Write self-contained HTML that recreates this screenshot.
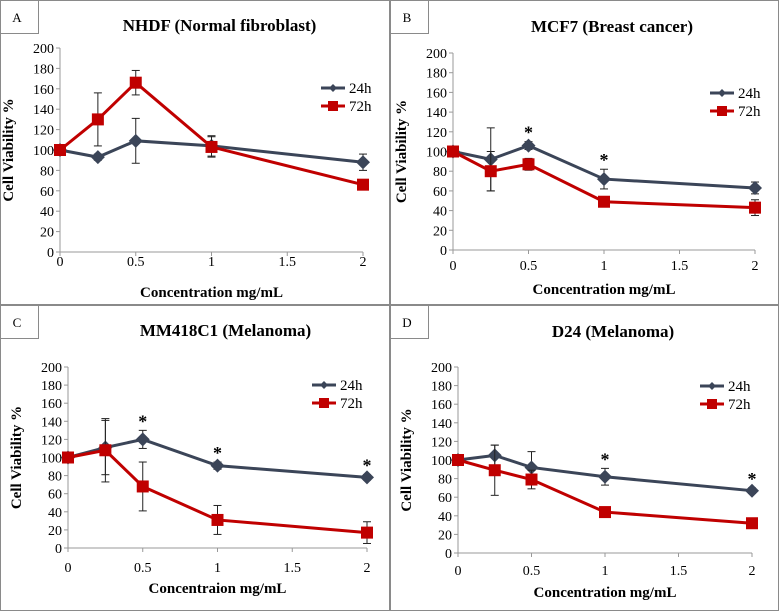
<!DOCTYPE html>
<html><head><meta charset="utf-8"><style>
body{margin:0;background:#fff}
svg text{font-family:"Liberation Serif",serif}
</style></head><body>
<svg id="fig" width="779" height="611" viewBox="0 0 779 611" xmlns="http://www.w3.org/2000/svg"></svg>
<script>
const concentrations=[0,0.25,0.5,1,2];
const xTicks=[0,0.5,1,1.5,2];
const yTicks=[0,20,40,60,80,100,120,140,160,180,200];
const seriesNames=["24h","72h"];
const titles=["NHDF (Normal fibroblast)","MCF7 (Breast cancer)","MM418C1 (Melanoma)","D24 (Melanoma)"];
const panelLetters=["A","B","C","D"];
const xLabels=["Concentration mg/mL","Concentration mg/mL","Concentraion mg/mL","Concentration mg/mL"];
const a24=[100,93,109,104,88], a24e=[0,3,22,10,8];
const a72=[100,130,166,103,66], a72e=[0,26,12,10,2];
const b24=[100,92,106,72,63], b24e=[0,32,4,10,6];
const b72=[100,80,87,49,43], b72e=[0,20,6,3,8];
const c24=[100,111,120,91,78], c24e=[0,30,10,4,3];
const c72=[100,108,68,31,17], c72e=[0,35,27,16,12];
const d24=[100,105,92,82,67], d24e=[0,11,17,9,3];
const d72=[100,89,79,44,32], d72e=[0,27,10,5,2];
const aStars=[], bStars=[0.5,1], cStars=[0.5,1,2], dStars=[1,2];

const NS="http://www.w3.org/2000/svg";
const svg=document.getElementById('fig');
function mk(tag,attrs,parent,text){const e=document.createElementNS(NS,tag);for(const k in attrs)e.setAttribute(k,attrs[k]);if(text!==undefined)e.textContent=text;(parent||svg).appendChild(e);return e;}

const panels=[
 {ox:0,oy:0,w:389,h:304,x0:60,x2:363,y200:48,y0:252,ty:31,tl:266,xl:297,ly:88,lx:321,d:[a24,a72],e:[a24e,a72e],s:aStars},
 {ox:390,oy:0,w:388,h:304,x0:453,x2:755,y200:53,y0:250,ty:32,tl:270,xl:294,ly:93,lx:710,d:[b24,b72],e:[b24e,b72e],s:bStars},
 {ox:0,oy:305,w:389,h:305,x0:68,x2:367,y200:367,y0:548,ty:336,tl:572,xl:593,ly:385,lx:312,d:[c24,c72],e:[c24e,c72e],s:cStars},
 {ox:390,oy:305,w:388,h:305,x0:458,x2:752,y200:367,y0:553,ty:337,tl:575,xl:597,ly:386,lx:700,d:[d24,d72],e:[d24e,d72e],s:dStars}
];
const colors=["#3b4558","#c00000"];

panels.forEach((p,i)=>{
 const g=mk('g',{});
 
 
 const X=v=>p.x0+(p.x2-p.x0)*v/2;
 const Y=v=>p.y0-(p.y0-p.y200)*v/200;
 const border=mk('rect',{x:p.ox+0.5,y:p.oy+0.5,width:p.w,height:p.h,fill:'#fff',stroke:'#8a8a8a','stroke-width':1},g);
 
 const lb=mk('rect',{x:p.ox+0.5,y:p.oy+0.5,width:38,height:33,fill:'#fff',stroke:'#8a8a8a'},g);
 
 const lt=mk('text',{x:p.ox+17,y:p.oy+22,'font-size':13,'text-anchor':'middle'},g,panelLetters[i]);
 
 const t=mk('text',{x:(p.x0+p.x2)/2+8,y:p.ty,'font-size':17,'font-weight':'bold','text-anchor':'middle'},g,titles[i]);
 
 const ya=mk('line',{x1:p.x0,y1:p.y200,x2:p.x0,y2:p.y0,stroke:'#999'},g);
 
 const xa=mk('line',{x1:p.x0,y1:p.y0,x2:p.x2,y2:p.y0,stroke:'#999'},g);
 
 yTicks.forEach(v=>{
  mk('line',{x1:p.x0-4,x2:p.x0,y1:Y(v),y2:Y(v),stroke:'#999'},g);
  const tt=mk('text',{x:p.x0-6,y:Y(v)+5,'font-size':14,'text-anchor':'end'},g,v);
  
 });
 xTicks.forEach(v=>{
  mk('line',{x1:X(v),x2:X(v),y1:p.y0,y2:p.y0+4,stroke:'#999'},g);
  const tt=mk('text',{x:X(v),y:p.tl,'font-size':14,'text-anchor':'middle'},g,v);
  
 });
 const yt=mk('text',{x:0,y:0,'font-size':15,'font-weight':'bold','text-anchor':'middle',transform:`translate(${p.x0-47},${(p.y0+p.y200)/2}) rotate(-90)`},g,'Cell Viability %');
 
 const xt=mk('text',{x:(p.x0+p.x2)/2,y:p.xl,'font-size':15,'font-weight':'bold','text-anchor':'middle'},g,xLabels[i]);
 
 [0,1].forEach(s=>{
  const vals=p.d[s], errs=p.e[s], c=colors[s];
  const sg=mk('g',{},g);
  
  vals.forEach((v,k)=>{
   if(errs[k]>0){
    const x=X(concentrations[k]);
    mk('line',{x1:x,x2:x,y1:Y(v+errs[k]),y2:Y(v-errs[k]),stroke:'#222','stroke-width':1},sg);
    mk('line',{x1:x-4,x2:x+4,y1:Y(v+errs[k]),y2:Y(v+errs[k]),stroke:'#222'},sg);
    mk('line',{x1:x-4,x2:x+4,y1:Y(v-errs[k]),y2:Y(v-errs[k]),stroke:'#222'},sg);
   }
  });
  const pts=vals.map((v,k)=>X(concentrations[k])+','+Y(v)).join(' ');
  const pl=mk('polyline',{points:pts,fill:'none',stroke:c,'stroke-width':3},sg);
  
  vals.forEach((v,k)=>{
   const x=X(concentrations[k]),y=Y(v);
   let m;
   if(s===0) m=mk('polygon',{points:`${x},${y-7} ${x+7},${y} ${x},${y+7} ${x-7},${y}`,fill:c},sg);
   else m=mk('rect',{x:x-6,y:y-6,width:12,height:12,fill:c},sg);
   
  });
 });
 p.s.forEach(cx=>{
  const k=concentrations.indexOf(cx);
  const st=mk('text',{x:X(cx),y:Y(p.d[0][k]+p.e[0][k])-3,'font-size':18,'font-weight':'bold','text-anchor':'middle'},g,'*');
  
 });
 [0,1].forEach(s=>{
  const y=p.ly+s*18;
  const lg=mk('g',{},g);
  
  mk('line',{x1:p.lx,x2:p.lx+24,y1:y,y2:y,stroke:colors[s],'stroke-width':3},lg);
  if(s===0) mk('polygon',{points:`${p.lx+12},${y-4} ${p.lx+16},${y} ${p.lx+12},${y+4} ${p.lx+8},${y}`,fill:colors[s]},lg);
  else mk('rect',{x:p.lx+7,y:y-5,width:10,height:10,fill:colors[s]},lg);
  mk('text',{x:p.lx+28,y:y+5,'font-size':15},lg,seriesNames[s]);
 });
});
</script>
</body></html>
